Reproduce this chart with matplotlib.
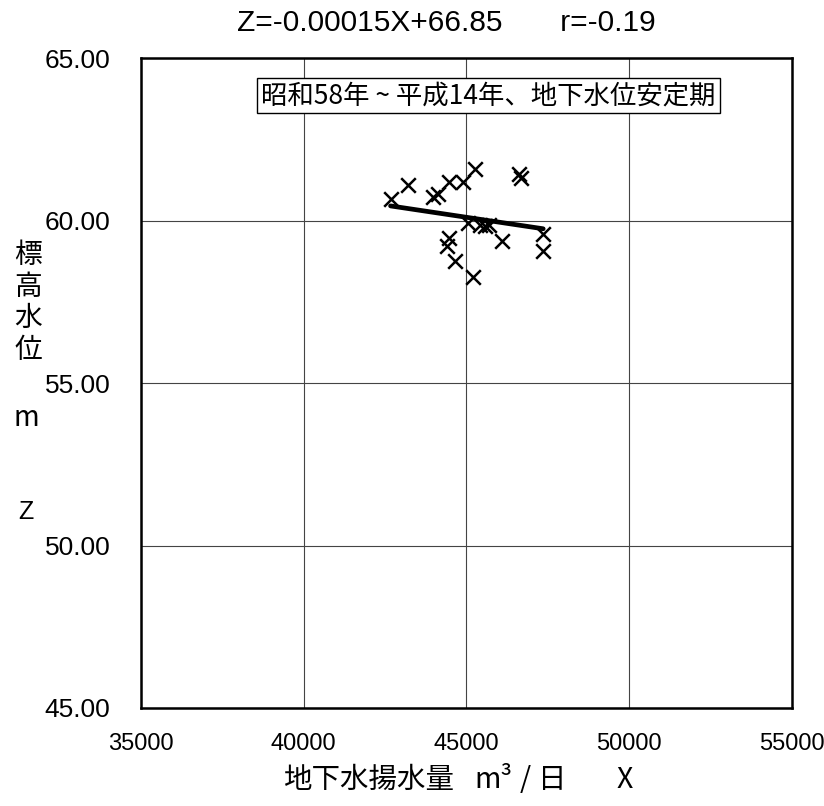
import numpy as np
import matplotlib
matplotlib.use("Agg")
import matplotlib.pyplot as plt
from matplotlib import font_manager
from matplotlib.ticker import FormatStrFormatter

# 地下水揚水量 (m3/日) と 標高水位 (m)
pumping = [42670, 43210, 43980, 44120, 44470, 44900, 45270, 46610, 46670,
           45050, 45420, 45580, 45700, 44470, 44410, 44650, 45210, 46080,
           47360, 47360]
level = [60.67, 61.08, 60.72, 60.83, 61.18, 61.18, 61.58, 61.44, 61.32,
         59.93, 59.85, 59.82, 59.86, 59.46, 59.21, 58.76, 58.26, 59.37,
         59.57, 59.07]

slope = -0.00015
intercept = 66.85
r_value = -0.19

xticks = [35000, 40000, 45000, 50000, 55000]
yticks = [45.0, 50.0, 55.0, 60.0, 65.0]

installed = {f.name for f in font_manager.fontManager.ttflist}
narrow = "Liberation Sans Narrow" if "Liberation Sans Narrow" in installed else "Liberation Sans"
jp = ["Noto Sans CJK JP", "DejaVu Sans"]

plt.rcParams["font.family"] = ["Liberation Sans", "Noto Sans CJK JP", "DejaVu Sans"]

W, H = 824, 806
fig = plt.figure(figsize=(W / 100, H / 100), dpi=100)
ax = fig.add_axes([0.171, 0.1216, 0.79, 0.8064])

ax.scatter(pumping, level, marker="x", s=110, c="black", linewidths=1.8, zorder=3)

# 回帰直線
xs = np.array([min(pumping), max(pumping)])
ax.plot(xs, slope * xs + intercept, color="black", lw=3.4, solid_capstyle="round", zorder=4)

ax.set_xlim(35000, 55000)
ax.set_ylim(45, 65)
ax.set_xticks(xticks)
ax.set_yticks(yticks)
ax.yaxis.set_major_formatter(FormatStrFormatter("%.2f"))
ax.tick_params(length=0)
ax.tick_params(axis="x", pad=18, labelsize=17)
ax.tick_params(axis="y", pad=22, labelsize=19)
ax.grid(True, color="#444444", lw=0.8)
ax.set_axisbelow(True)
for s in ax.spines.values():
    s.set_linewidth(1.8)
    s.set_color("black")

# 回帰式
fig.text(0.542, 0.972, f"Z={slope:.5f}X+{intercept:.2f}       r={r_value:.2f}",
         ha="center", va="center", fontsize=21.5, family=[narrow, "DejaVu Sans"])

ax.text(0.534, 0.942, "昭和58年 ~ 平成14年、地下水位安定期", transform=ax.transAxes,
        ha="center", va="center", fontsize=19, family=jp,
        bbox=dict(boxstyle="square,pad=0.15", fc="white", ec="black", lw=1.0))

# 縦軸ラベル
for ch, yp in zip(["標", "高", "水", "位"], [255, 287, 318, 350]):
    fig.text(28 / W, 1 - yp / H, ch, ha="center", va="center", fontsize=20, family=jp)
fig.text(26 / W, 1 - 418 / H, "m", ha="center", va="center", fontsize=20, family=jp)
fig.text(26 / W, 1 - 512 / H, "Z", ha="center", va="center", fontsize=18, family=[narrow, "DejaVu Sans"])

# 横軸ラベル
xlabel_parts = [("地下水揚水量", 369), ("m³", 493), ("/", 525), ("日", 552), ("X", 625)]
for txt, xp in xlabel_parts:
    fig.text(xp / W, 1 - 780 / H, txt, ha="center", va="center", fontsize=20.5, family=jp)

fig.savefig("out.png", dpi=100)
